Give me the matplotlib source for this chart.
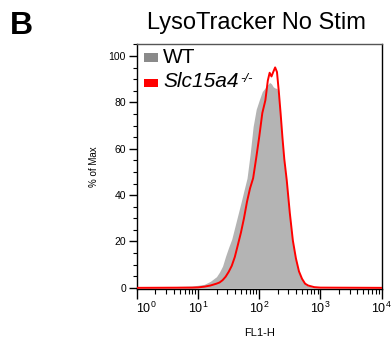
import numpy as np
import matplotlib
matplotlib.use("Agg")
import matplotlib.pyplot as plt
from matplotlib.patches import Rectangle
from matplotlib.ticker import FixedLocator, LogLocator, NullFormatter, MultipleLocator
from matplotlib.transforms import ScaledTranslation

plt.rcParams['font.family'] = ['Liberation Sans', 'DejaVu Sans']
plt.rcParams['mathtext.fontset'] = 'custom'
plt.rcParams['mathtext.rm'] = 'Liberation Sans'
plt.rcParams['mathtext.it'] = 'Liberation Sans:italic'
plt.rcParams['mathtext.bf'] = 'Liberation Sans:bold'

# ---- data (FL1-H intensity as log10 decades, % of max) ----
fl1_log10 = [0.0, 0.9, 1.0, 1.1, 1.2, 1.3, 1.35, 1.4, 1.45, 1.5, 1.55, 1.6, 1.65,
             1.7, 1.75, 1.8, 1.85, 1.9, 1.95, 2.0, 2.05, 2.1, 2.14, 2.17, 2.2,
             2.23, 2.26, 2.29, 2.32, 2.35, 2.38, 2.41, 2.45, 2.5, 2.55, 2.6,
             2.65, 2.7, 2.75, 2.8, 2.9, 3.0, 4.0]
wt_pct = [0.0, 0.8, 1.1, 1.5, 2.8, 4.8, 6.8, 9.4, 13.7, 17.5, 21.0, 26.2, 31.4,
          36.6, 42.0, 47.3, 57.5, 69.6, 77.0, 81.0, 84.7, 86.4, 87.7, 88.6, 88.0,
          86.7, 86.2, 86.0, 82.0, 72.0, 61.5, 52.5, 44.0, 31.0, 19.5, 12.0,
          6.5, 3.5, 1.6, 0.8, 0.2, 0.0, 0.0]
ko_pct = [0.0, 0.1, 0.2, 0.5, 1.0, 1.8, 2.3, 3.3, 4.8, 6.9, 9.5, 13.3, 18.5,
          23.8, 30.0, 37.2, 43.0, 47.3, 56.0, 65.2, 75.4, 80.9, 89.4, 92.8, 91.2,
          93.2, 95.1, 93.1, 84.7, 75.1, 64.7, 55.5, 46.4, 32.3, 20.4, 12.7,
          7.1, 3.9, 1.8, 1.0, 0.3, 0.1, 0.0]
series_labels = ['WT', 'Slc15a4']
ko_superscript = '-/-'
x_ticks = [1, 10, 100, 1000, 10000]
x_ticklabels = [r'$10^{0}$', r'$10^{1}$', r'$10^{2}$', r'$10^{3}$', r'$10^{4}$']
y_ticks = [0, 20, 40, 60, 80, 100]

fl1 = 10 ** np.array(fl1_log10)

W, H = 391, 343
fig = plt.figure(figsize=(W / 100, H / 100), dpi=100)
ax = fig.add_axes([137 / W, 1 - 289 / H, 244.5 / W, 245 / H])

ax.fill_between(fl1, wt_pct, 0, color='#b4b4b4', lw=0, zorder=2)
ax.plot(fl1, ko_pct, color='#ff0000', lw=1.4, zorder=3)

ax.set_xscale('log')
ax.set_xlim(1, 10000)
ax.set_ylim(-0.5, 105.2)

ax.xaxis.set_major_locator(FixedLocator(x_ticks))
ax.set_xticklabels(x_ticklabels)
ax.xaxis.set_minor_locator(LogLocator(base=10, subs=np.arange(2, 10), numticks=20))
ax.xaxis.set_minor_formatter(NullFormatter())
ax.set_yticks(y_ticks)
ax.yaxis.set_minor_locator(MultipleLocator(5))

ax.tick_params(axis='x', which='major', direction='out', length=7, width=1,
               labelsize=9, pad=1.5, colors='black')
ax.tick_params(axis='x', which='minor', direction='out', length=3.5, width=0.8)
ax.tick_params(axis='y', which='major', direction='out', length=6, width=1,
               labelsize=7.5, pad=2)
ax.tick_params(axis='y', which='minor', direction='out', length=3, width=0.8)

# shift first x tick label right as in the reference
lbls = ax.get_xticklabels()
lbls[0].set_transform(lbls[0].get_transform() + ScaledTranslation(9 / 100, 0, fig.dpi_scale_trans))

for s in ax.spines.values():
    s.set_linewidth(1.0)
    s.set_color('black')
ax.spines['top'].set_color('#555555')

ax.set_xlabel('FL1-H', fontsize=8)
ax.xaxis.set_label_coords(0.5, -0.16)
ax.set_ylabel('% of Max', fontsize=7)
ax.yaxis.set_label_coords(-0.155, 0.5)

# legend drawn manually
ax.add_patch(Rectangle((0.0286, 0.9265), 0.0573, 0.0367, transform=ax.transAxes,
                       facecolor='#8a8a8a', edgecolor='none', zorder=5))
ax.add_patch(Rectangle((0.0286, 0.8245), 0.0573, 0.0330, transform=ax.transAxes,
                       facecolor='#ff0000', edgecolor='none', zorder=5))
ax.text(0.108, 0.944, series_labels[0], transform=ax.transAxes, fontsize=15,
        va='center', ha='left', zorder=6)
t2 = ax.text(0.108, 0.845, series_labels[1], transform=ax.transAxes, fontsize=15,
             style='italic', va='center', ha='left', zorder=6)
ax.annotate(ko_superscript, xy=(1.0, 0.95), xycoords=t2, xytext=(1, 0),
            textcoords='offset points', fontsize=9.5, style='italic',
            ha='left', va='top', zorder=6)

fig.text(256 / W, 1 - 22.5 / H, 'LysoTracker No Stim', fontsize=17, ha='center', va='center')
fig.text(10 / W, 1 - 26 / H, 'B', fontsize=23, fontweight='bold', ha='left', va='center')

fig.savefig('out.png', dpi=100)
